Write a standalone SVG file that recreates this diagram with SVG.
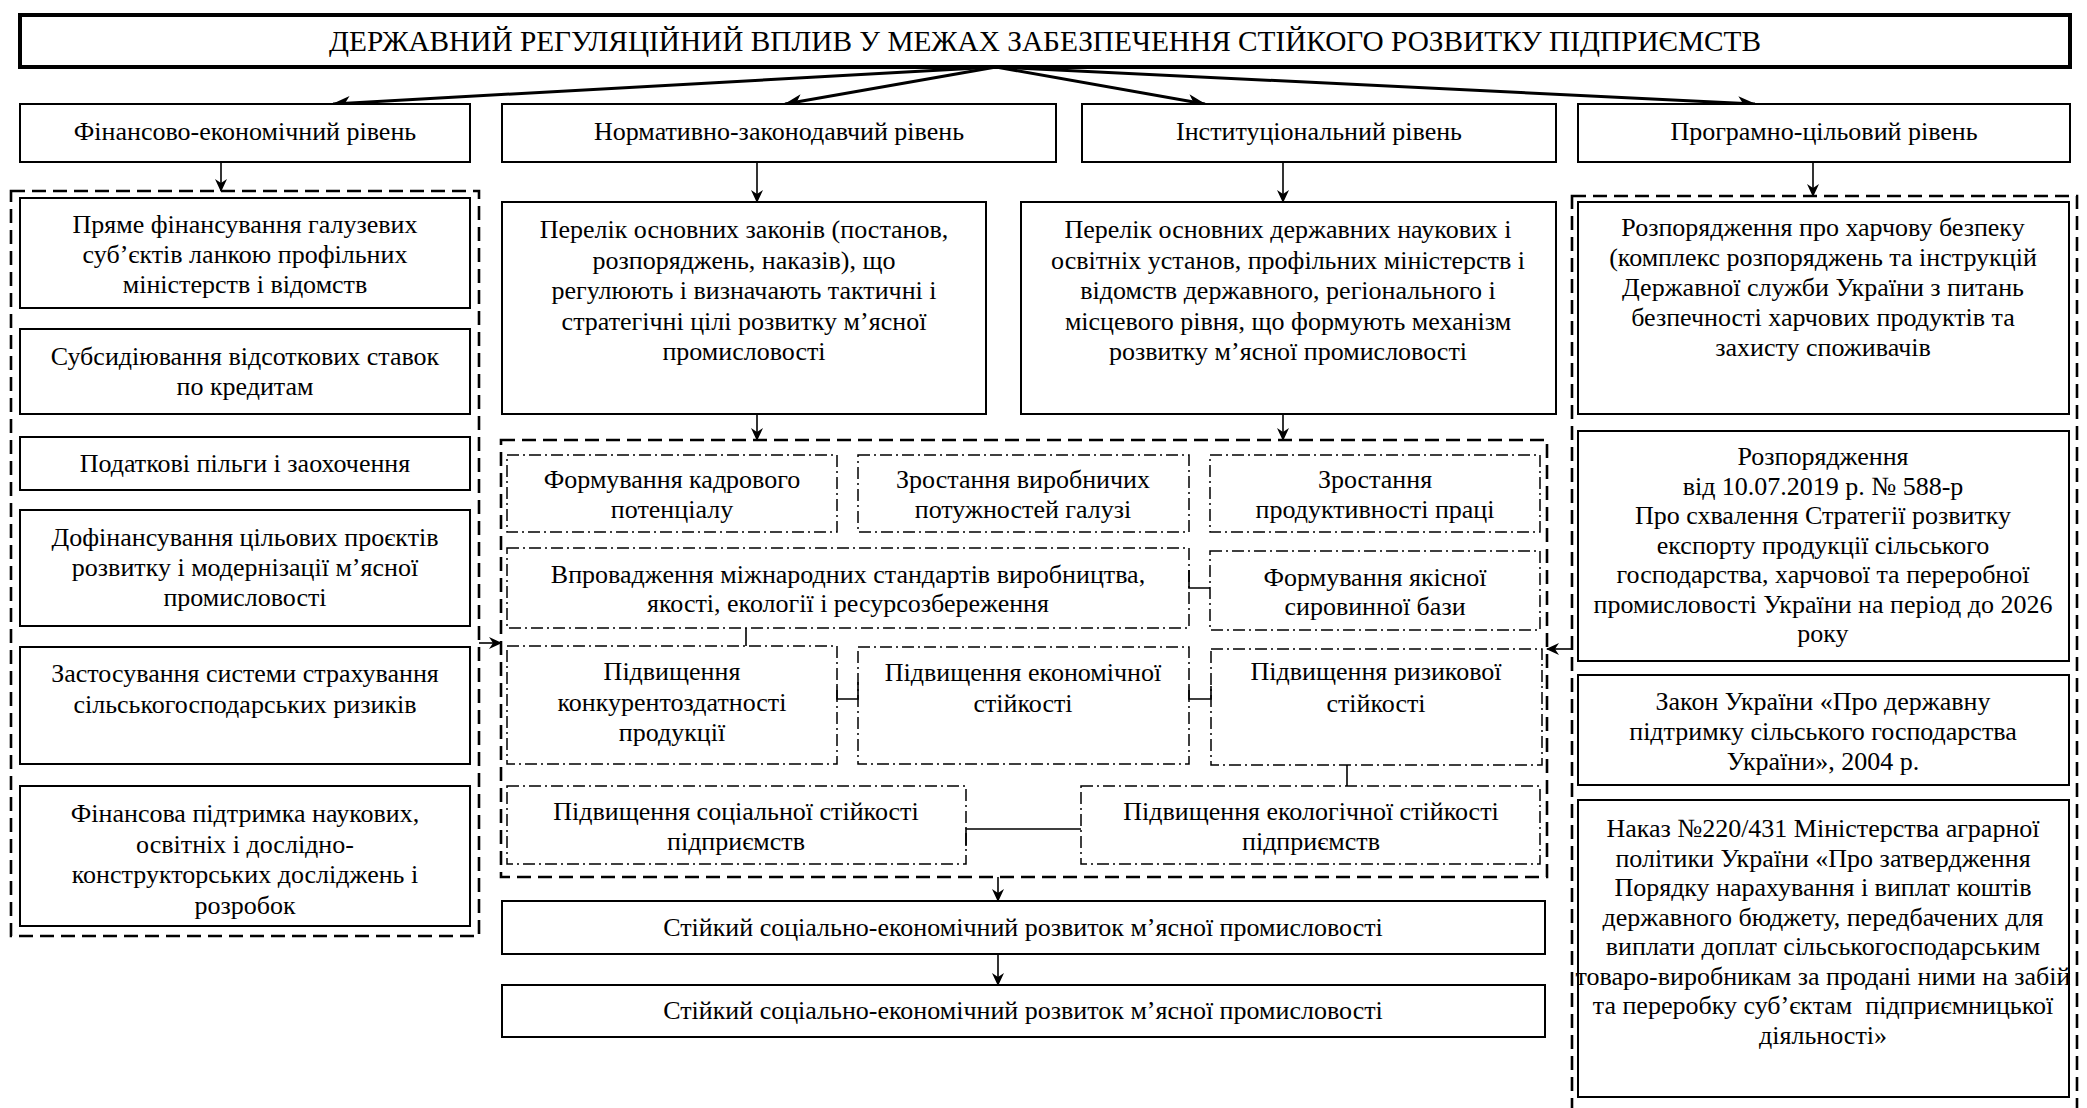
<svg xmlns="http://www.w3.org/2000/svg" width="2087" height="1108" viewBox="0 0 2087 1108">
  <style>
    .bg { fill: #ffffff; }
    .box { fill: #ffffff; stroke: #000; stroke-width: 2; }
    .title { fill: #ffffff; stroke: #000; stroke-width: 4; }
    .grp { fill: none; stroke: #000; stroke-width: 2.6; stroke-dasharray: 14 7; }
    .dd { fill: none; stroke: #000; stroke-width: 1.5; stroke-dasharray: 12 4 2 4; }
    .t { font-family: "Liberation Serif", "Times New Roman", serif; font-size: 26px; fill: #000; text-anchor: middle; }
    .tt { font-family: "Liberation Serif", "Times New Roman", serif; font-size: 29.3px; fill: #000; text-anchor: middle; }
    .ln { fill: none; stroke: #000; stroke-width: 1.6; }
    .thick { fill: none; stroke: #000; stroke-width: 3; }
  </style>
  <defs>
    <marker id="big" markerWidth="18" markerHeight="14" refX="17" refY="7" orient="auto" markerUnits="userSpaceOnUse">
      <path d="M0,0 L18,7 L0,14 L5,7 z" fill="#000"/>
    </marker>
    <marker id="sm" markerWidth="13" markerHeight="12" refX="12" refY="6" orient="auto" markerUnits="userSpaceOnUse">
      <path d="M0,0 L13,6 L0,12 L4,6 z" fill="#000"/>
    </marker>
  </defs>
  <rect class="bg" x="0" y="0" width="2087" height="1108"/>

  <!-- group frames -->
  <g id="frames">
    <rect class="grp" x="11" y="191" width="468" height="745"/>
    <rect class="grp" x="501" y="440" width="1046" height="437"/>
    <rect class="grp" x="1572" y="196" width="505" height="940"/>
  </g>

  <!-- connectors -->
  <g id="connectors">
    <path class="thick" d="M996,67 L333,104" marker-end="url(#big)"/>
    <path class="thick" d="M996,67 L785,104" marker-end="url(#big)"/>
    <path class="thick" d="M996,67 L1205,104" marker-end="url(#big)"/>
    <path class="thick" d="M996,67 L1755,104" marker-end="url(#big)"/>
    <path class="ln" d="M221,162 V191" marker-end="url(#sm)"/>
    <path class="ln" d="M757,162 V202" marker-end="url(#sm)"/>
    <path class="ln" d="M1283,162 V202" marker-end="url(#sm)"/>
    <path class="ln" d="M1813,162 V196" marker-end="url(#sm)"/>
    <path class="ln" d="M757,414 V440" marker-end="url(#sm)"/>
    <path class="ln" d="M1283,414 V440" marker-end="url(#sm)"/>
    <path class="ln" d="M479,643 H501" marker-end="url(#sm)"/>
    <path class="ln" d="M1572,649 H1547" marker-end="url(#sm)"/>
    <path class="ln" d="M998,877 V901" marker-end="url(#sm)"/>
    <path class="ln" d="M998,954 V985" marker-end="url(#sm)"/>
    <!-- links inside the middle frame -->
    <path class="ln" d="M1189,570 V588 H1210"/>
    <path class="ln" d="M746,628 V646"/>
    <path class="ln" d="M837,686 V699 H858 V682"/>
    <path class="ln" d="M1189,686 V699 H1211 V686"/>
    <path class="ln" d="M1347,765 V786"/>
    <path class="ln" d="M966,846 V829 H1081"/>
  </g>

  <!-- title -->
  <g id="title">
    <rect class="title" x="20" y="15" width="2050" height="52"/>
    <text class="tt" x="1045" y="51">ДЕРЖАВНИЙ РЕГУЛЯЦІЙНИЙ ВПЛИВ У МЕЖАХ ЗАБЕЗПЕЧЕННЯ СТІЙКОГО РОЗВИТКУ ПІДПРИЄМСТВ</text>
  </g>

  <!-- levels -->
  <g id="level-fin">
    <rect class="box" x="20" y="104" width="450" height="58"/>
    <text class="t" x="245" y="140">Фінансово-економічний рівень</text>
  </g>
  <g id="level-norm">
    <rect class="box" x="502" y="104" width="554" height="58"/>
    <text class="t" x="779" y="140">Нормативно-законодавчий рівень</text>
  </g>
  <g id="level-inst">
    <rect class="box" x="1082" y="104" width="474" height="58"/>
    <text class="t" x="1319" y="140">Інституціональний рівень</text>
  </g>
  <g id="level-prog">
    <rect class="box" x="1578" y="104" width="492" height="58"/>
    <text class="t" x="1824" y="140">Програмно-цільовий рівень</text>
  </g>

  <!-- financial instruments -->
  <g id="fin-1">
    <rect class="box" x="20" y="198" width="450" height="110"/>
    <text class="t"><tspan x="245" y="233">Пряме фінансування галузевих</tspan><tspan x="245" y="263">суб’єктів ланкою профільних</tspan><tspan x="245" y="293">міністерств і відомств</tspan></text>
  </g>
  <g id="fin-2">
    <rect class="box" x="20" y="329" width="450" height="85"/>
    <text class="t"><tspan x="245" y="365">Субсидіювання відсоткових ставок</tspan><tspan x="245" y="395">по кредитам</tspan></text>
  </g>
  <g id="fin-3">
    <rect class="box" x="20" y="437" width="450" height="53"/>
    <text class="t" x="245" y="472">Податкові пільги і заохочення</text>
  </g>
  <g id="fin-4">
    <rect class="box" x="20" y="510" width="450" height="116"/>
    <text class="t"><tspan x="245" y="546">Дофінансування цільових проєктів</tspan><tspan x="245" y="576">розвитку і модернізації м’ясної</tspan><tspan x="245" y="606">промисловості</tspan></text>
  </g>
  <g id="fin-5">
    <rect class="box" x="20" y="647" width="450" height="117"/>
    <text class="t"><tspan x="245" y="682">Застосування системи страхування</tspan><tspan x="245" y="713">сільськогосподарських ризиків</tspan></text>
  </g>
  <g id="fin-6">
    <rect class="box" x="20" y="786" width="450" height="140"/>
    <text class="t"><tspan x="245" y="822">Фінансова підтримка наукових,</tspan><tspan x="245" y="852.5">освітніх і дослідно-</tspan><tspan x="245" y="883">конструкторських досліджень і</tspan><tspan x="245" y="913.5">розробок</tspan></text>
  </g>

  <!-- legislative list -->
  <g id="norm-list">
    <rect class="box" x="502" y="202" width="484" height="212"/>
    <text class="t"><tspan x="744" y="238">Перелік основних законів (постанов,</tspan><tspan x="744" y="268.5">розпоряджень, наказів), що</tspan><tspan x="744" y="299">регулюють і визначають тактичні і</tspan><tspan x="744" y="329.5">стратегічні цілі розвитку м’ясної</tspan><tspan x="744" y="360">промисловості</tspan></text>
  </g>

  <!-- institutional list -->
  <g id="inst-list">
    <rect class="box" x="1021" y="202" width="535" height="212"/>
    <text class="t"><tspan x="1288" y="238">Перелік основних державних наукових і</tspan><tspan x="1288" y="268.5">освітніх установ, профільних міністерств і</tspan><tspan x="1288" y="299">відомств державного, регіонального і</tspan><tspan x="1288" y="329.5">місцевого рівня, що формують механізм</tspan><tspan x="1288" y="360">розвитку м’ясної промисловості</tspan></text>
  </g>

  <!-- programme documents -->
  <g id="prog-1">
    <rect class="box" x="1578" y="202" width="491" height="212"/>
    <text class="t"><tspan x="1823" y="236">Розпорядження про харчову безпеку</tspan><tspan x="1823" y="266">(комплекс розпоряджень та інструкцій</tspan><tspan x="1823" y="296">Державної служби України з питань</tspan><tspan x="1823" y="326">безпечності харчових продуктів та</tspan><tspan x="1823" y="356">захисту споживачів</tspan></text>
  </g>
  <g id="prog-2">
    <rect class="box" x="1578" y="431" width="491" height="230"/>
    <text class="t"><tspan x="1823" y="465">Розпорядження</tspan><tspan x="1823" y="494.5">від 10.07.2019 р. № 588-р</tspan><tspan x="1823" y="524">Про схвалення Стратегії розвитку</tspan><tspan x="1823" y="553.5">експорту продукції сільського</tspan><tspan x="1823" y="583">господарства, харчової та переробної</tspan><tspan x="1823" y="612.5">промисловості України на період до 2026</tspan><tspan x="1823" y="642">року</tspan></text>
  </g>
  <g id="prog-3">
    <rect class="box" x="1578" y="675" width="491" height="110"/>
    <text class="t"><tspan x="1823" y="710">Закон України «Про державну</tspan><tspan x="1823" y="740">підтримку сільського господарства</tspan><tspan x="1823" y="770">України», 2004 р.</tspan></text>
  </g>
  <g id="prog-4">
    <rect class="box" x="1578" y="800" width="491" height="297"/>
    <text class="t" xml:space="preserve"><tspan x="1823" y="837">Наказ №220/431 Міністерства аграрної</tspan><tspan x="1823" y="866.5">політики України «Про затвердження</tspan><tspan x="1823" y="896">Порядку нарахування і виплат коштів</tspan><tspan x="1823" y="925.5">державного бюджету, передбачених для</tspan><tspan x="1823" y="955">виплати доплат сільськогосподарським</tspan><tspan x="1823" y="984.5">товаро-виробникам за продані ними на забій</tspan><tspan x="1823" y="1014">та переробку суб’єктам  підприємницької</tspan><tspan x="1823" y="1043.5">діяльності»</tspan></text>
  </g>

  <!-- outcomes inside the middle frame -->
  <g id="res-staff">
    <rect class="dd" x="507" y="455" width="330" height="77"/>
    <text class="t"><tspan x="672" y="488">Формування кадрового</tspan><tspan x="672" y="518">потенціалу</tspan></text>
  </g>
  <g id="res-capacity">
    <rect class="dd" x="858" y="455" width="331" height="77"/>
    <text class="t"><tspan x="1023" y="488">Зростання виробничих</tspan><tspan x="1023" y="518">потужностей галузі</tspan></text>
  </g>
  <g id="res-productivity">
    <rect class="dd" x="1210" y="455" width="330" height="77"/>
    <text class="t"><tspan x="1375" y="488">Зростання</tspan><tspan x="1375" y="518">продуктивності праці</tspan></text>
  </g>
  <g id="res-standards">
    <rect class="dd" x="507" y="548" width="682" height="80"/>
    <text class="t"><tspan x="848" y="583">Впровадження міжнародних стандартів виробництва,</tspan><tspan x="848" y="612">якості, екології і ресурсозбереження</tspan></text>
  </g>
  <g id="res-raw">
    <rect class="dd" x="1210" y="551" width="330" height="79"/>
    <text class="t"><tspan x="1375" y="586">Формування якісної</tspan><tspan x="1375" y="615">сировинної бази</tspan></text>
  </g>
  <g id="res-compet">
    <rect class="dd" x="507" y="646" width="330" height="118"/>
    <text class="t"><tspan x="672" y="680">Підвищення</tspan><tspan x="672" y="711">конкурентоздатності</tspan><tspan x="672" y="741">продукції</tspan></text>
  </g>
  <g id="res-econ">
    <rect class="dd" x="858" y="647" width="331" height="117"/>
    <text class="t"><tspan x="1023" y="681">Підвищення економічної</tspan><tspan x="1023" y="712">стійкості</tspan></text>
  </g>
  <g id="res-risk">
    <rect class="dd" x="1211" y="649" width="331" height="116"/>
    <text class="t"><tspan x="1376" y="680">Підвищення ризикової</tspan><tspan x="1376" y="712">стійкості</tspan></text>
  </g>
  <g id="res-social">
    <rect class="dd" x="507" y="786" width="459" height="78"/>
    <text class="t"><tspan x="736" y="820">Підвищення соціальної стійкості</tspan><tspan x="736" y="850">підприємств</tspan></text>
  </g>
  <g id="res-eco">
    <rect class="dd" x="1081" y="786" width="459" height="78"/>
    <text class="t"><tspan x="1311" y="820">Підвищення екологічної стійкості</tspan><tspan x="1311" y="850">підприємств</tspan></text>
  </g>

  <!-- final outcomes -->
  <g id="goal-1">
    <rect class="box" x="502" y="901" width="1043" height="53"/>
    <text class="t" x="1023" y="936">Стійкий соціально-економічний розвиток м’ясної промисловості</text>
  </g>
  <g id="goal-2">
    <rect class="box" x="502" y="985" width="1043" height="52"/>
    <text class="t" x="1023" y="1019">Стійкий соціально-економічний розвиток м’ясної промисловості</text>
  </g>
</svg>
